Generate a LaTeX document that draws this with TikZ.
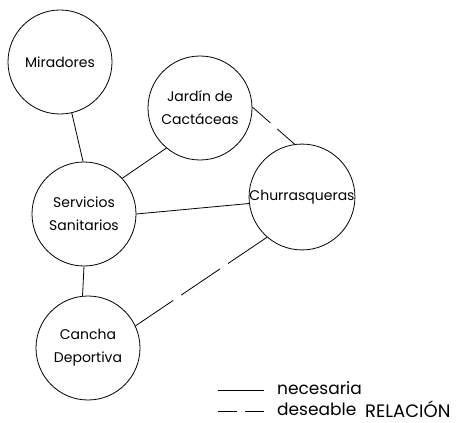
\documentclass[tikz,border=0pt]{standalone}
\usepackage{fontspec}
\setmainfont{Poppins}
\begin{document}
\begin{tikzpicture}[x=1pt,y=-1pt,
  place/.style={draw,circle,line width=0.8pt,minimum size=104pt,inner sep=0pt,align=center,font=\fontsize{14}{23}\selectfont},
  link/.style={line width=0.8pt},
  wish/.style={line width=0.8pt,dash pattern=on 47pt off 9.5pt},
  legtext/.style={font=\fontsize{17}{22}\selectfont,anchor=base west,inner sep=0pt}]
\useasboundingbox (0,0) rectangle (470,422);
\node[place] (mir) at (60,62) {Miradores};
\node[place] (jar) at (200,108) {Jardín de\\Cactáceas};
\node[place] (chu) at (302,197) {Churrasqueras};
\node[place] (ser) at (84,214) {Servicios\\Sanitarios};
\node[place] (can) at (88,348) {Cancha\\Deportiva};
\draw[link] (mir.283) -- (ser.91);
\draw[link] (jar.230) -- (ser.43);
\draw[link] (ser.0) -- (chu.187);
\draw[link] (ser.270) -- (can.96);
\draw[wish] (chu.229) -- (can.25);
\draw[line width=0.8pt,dash pattern=on 24pt off 9pt] (jar.1) -- (chu.98);
% legend
\coordinate (s1) at (218,390);
\coordinate (s2) at (264,390);
\coordinate (d1) at (218,411);
\coordinate (d2) at (264,411);
\draw[link] (s1) -- (s2);
\draw[line width=0.8pt,dash pattern=on 19pt off 8pt] (d1) -- (d2);
\node[legtext] (nec) at (277,394) {necesaria};
\node[legtext] (des) at (277,415) {deseable};
\node[font=\fontsize{18}{22}\selectfont,anchor=base west,inner sep=0pt] (rel) at (365,417) {RELACIÓN};
\end{tikzpicture}
\end{document}
